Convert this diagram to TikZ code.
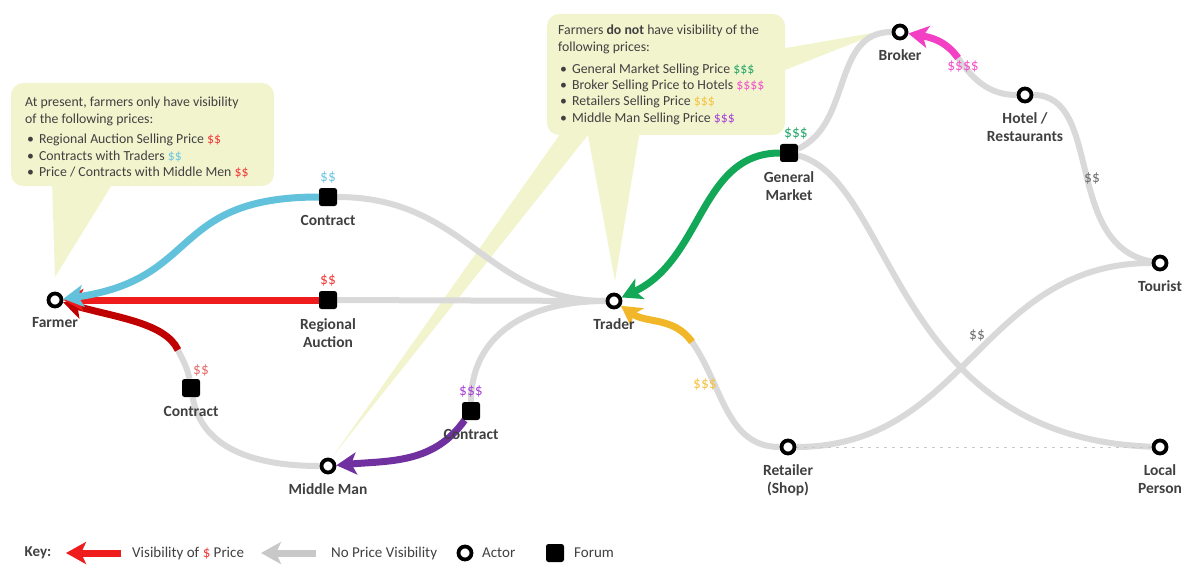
\documentclass[tikz,border=0pt]{standalone}
\usepackage{fontspec}
\setmainfont{Carlito}
\usepackage{xcolor}
\usetikzlibrary{arrows.meta,positioning,backgrounds}
\definecolor{linkGray}{HTML}{D9D9D9}
\definecolor{keyGray}{HTML}{C8C8C8}
\definecolor{txtGray}{HTML}{404040}
\definecolor{noteFill}{HTML}{F2F4CE}
\definecolor{visRed}{HTML}{EE1C1C}
\definecolor{visDarkRed}{HTML}{C00000}
\definecolor{visBlue}{HTML}{62C2DC}
\definecolor{visGreen}{HTML}{12A857}
\definecolor{visPurple}{HTML}{7030A0}
\definecolor{visGold}{HTML}{F2B629}
\definecolor{visPink}{HTML}{F23FC3}
\definecolor{dolBlue}{HTML}{6EC6E2}
\definecolor{dolRed}{HTML}{F03C3C}
\definecolor{dolSoftRed}{HTML}{E46C6C}
\definecolor{dolPurple}{HTML}{A843D8}
\definecolor{dolGreen}{HTML}{26A86A}
\definecolor{dolPink}{HTML}{F154C8}
\definecolor{dolGold}{HTML}{F6C343}
\definecolor{dolGray}{HTML}{6E6E6E}

\begin{document}
\begin{tikzpicture}[x=1pt,y=-1pt,>=Stealth,
  font=\fontsize{14}{17}\selectfont,label distance=9pt,
  actor/.style={circle,draw=black,line width=3.8pt,fill=white,minimum size=13pt,inner sep=0pt},
  forum/.style={rectangle,rounded corners=2.5pt,fill=black,minimum size=18pt,inner sep=0pt},
  lbl/.style={font=\fontsize{15.5}{18}\selectfont\bfseries,text=txtGray,align=center,inner sep=0pt},
  dol/.style={font=\fontsize{15.5}{18}\selectfont,inner sep=0pt},
  link/.style={draw=linkGray,line width=6pt},
  vis/.style={line width=7pt,-{Stealth[length=20pt,width=22pt,inset=5pt]}},
  note/.style={fill=noteFill},
  notetext/.style={font=\fontsize{13.8}{16.3}\selectfont,text=txtGray,align=left,anchor=north west,inner sep=0pt},
  keytext/.style={font=\fontsize{15}{18}\selectfont,text=txtGray,inner sep=0pt}]
\useasboundingbox (0,0) rectangle (1189,567);

% actors and forums
\node[actor,label={[lbl]below:Farmer}] (farmer) at (55,300) {};
\node[forum,label={[lbl]below:Contract}] (ctrT) at (328,197) {};
\node[forum,label={[lbl]below:Regional\\Auction}] (regA) at (328,300) {};
\node[forum,label={[lbl]below:Contract}] (ctrL) at (191,388) {};
\node[actor,label={[lbl]below:Middle Man}] (midman) at (328,466) {};
\node[forum,label={[lbl]below:Contract}] (ctrM) at (471,411) {};
\node[actor,label={[lbl]below:Trader}] (trader) at (614,301) {};
\node[forum,label={[lbl]below:General\\Market}] (genM) at (789,153) {};
\node[actor,label={[lbl]below:Broker}] (broker) at (900,32) {};
\node[actor,label={[lbl]below:Hotel /\\Restaurants}] (hotel) at (1025,95) {};
\node[actor,label={[lbl]below:Tourist}] (tourist) at (1160,263) {};
\node[actor,label={[lbl]below:Retailer\\(Shop)}] (retail) at (788,447) {};
\node[actor,label={[lbl]below:Local\\Person}] (local) at (1160,447) {};

% points where a link changes colour
\coordinate (ctrLup) at (178,350);
\coordinate (retUp) at (692,342);
\coordinate (hotUp) at (958,58);

% prices
\node[dol,text=dolBlue,above=4pt of ctrT] (dolCtrT) {\$\$};
\node[dol,text=dolRed,above=4pt of regA] (dolRegA) {\$\$};
\node[dol,text=dolSoftRed] (dolCtrL) at (201,370) {\$\$};
\node[dol,text=dolPurple,above=4pt of ctrM] (dolCtrM) {\$\$\$};
\node[dol,text=dolGreen] (dolGenM) at (796,133) {\$\$\$};
\node[dol,text=dolGold] (dolRet) at (705,384) {\$\$\$};
\node[dol,text=dolPink] (dolHot) at (963,66) {\$\$\$\$};
\node[dol,text=dolGray] (dolHotTour) at (1092,178) {\$\$};
\node[dol,text=dolGray] (dolRetTour) at (977,335) {\$\$};

% callout texts
\node[notetext] (noteNow) at (25,97) {At present, farmers only have visibility\\
  of the following prices:\\[4.5pt]
  \hspace{2pt}\textbullet\hspace{5pt}Regional Auction Selling Price \textcolor{dolRed}{\$\$}\\
  \hspace{2pt}\textbullet\hspace{5pt}Contracts with Traders \textcolor{dolBlue}{\$\$}\\
  \hspace{2pt}\textbullet\hspace{5pt}Price / Contracts with Middle Men \textcolor{dolRed}{\$\$}};
\node[notetext] (noteNot) at (558,25) {Farmers \textbf{do not} have visibility of the\\
  following prices:\\[5.7pt]
  \hspace{2pt}\textbullet\hspace{5pt}General Market Selling Price \textcolor{dolGreen}{\$\$\$}\\
  \hspace{2pt}\textbullet\hspace{5pt}Broker Selling Price to Hotels \textcolor{dolPink}{\$\$\$\$}\\
  \hspace{2pt}\textbullet\hspace{5pt}Retailers Selling Price \textcolor{dolGold}{\$\$\$}\\
  \hspace{2pt}\textbullet\hspace{5pt}Middle Man Selling Price \textcolor{dolPurple}{\$\$\$}};

\begin{scope}[on background layer]
% callout shapes
\fill[note,rounded corners=12pt] (11,83) rectangle (274,186);
\fill[note] (52,180) -- (115,180) -- (55,277) -- cycle;
\fill[note,rounded corners=12pt] (547,14) rectangle (785,135);
\fill[note] (587,130) -- (640,130) -- (615,281) -- cycle;
\fill[note] (563,130) -- (592,130) -- (333,456) -- cycle;
\fill[note] (780,49) -- (780,72) -- (884,31) -- cycle;

% links without price visibility
\draw[link] (ctrT) to[out=0,in=180,out distance=130,in distance=120] (trader);
\draw[link] (regA) -- (trader);
\draw[link] (ctrL) to[out=100,in=-65] (ctrLup);
\draw[link] (ctrL) to[out=-80,in=180] (midman);
\draw[link] (ctrM) to[out=90,in=180,in distance=80] (trader);
\draw[link] (retail) to[out=180,in=-55] (retUp);
\draw[link] (genM) to[out=25,in=180,out distance=60,in distance=60] (broker);
\draw[link] (genM) to[out=-15,in=178,out distance=100,in distance=260] (local);
\draw[link] (hotel) to[out=180,in=-55] (hotUp);
\draw[link] (hotel) to[out=0,in=170,out distance=70,in distance=90] (tourist);
\draw[link] (retail) to[out=0,in=180,out distance=170,in distance=170] (tourist);
\draw[keyGray,line width=0.8pt,dash pattern=on 3pt off 5pt] (retail) -- (local);

% links with price visibility
\draw[vis,visDarkRed] (ctrLup) to[out=115,in=-16,out distance=30,in distance=55] (farmer);
\draw[vis,visRed] (regA) -- (farmer);
\draw[vis,visBlue] (ctrT) to[out=180,in=8,out distance=150,in distance=140] (farmer);
\draw[vis,visPurple] (ctrM) to[out=-125,in=5] (midman);
\draw[vis,visGreen] (genM) to[out=180,in=25,out distance=80,in distance=90] (trader);
\draw[vis,visGold] (retUp) to[out=125,in=-35] (trader);
\draw[vis,visPink] (hotUp) to[out=125,in=-10] (broker);
\end{scope}

% key
\node[keytext,font=\fontsize{15}{18}\selectfont\bfseries] (keyLbl) at (38,553) {Key:};
\coordinate (keyRedA) at (121,553);
\coordinate (keyRedB) at (66,553);
\draw[vis,visRed] (keyRedA) -- (keyRedB);
\node[keytext,anchor=west] (keyVis) at (132,553) {Visibility of \textcolor{dolRed}{\$} Price};
\coordinate (keyGrayA) at (316,553);
\coordinate (keyGrayB) at (261,553);
\draw[vis,keyGray] (keyGrayA) -- (keyGrayB);
\node[keytext,anchor=west] (keyNo) at (331,553) {No Price Visibility};
\node[actor] (keyActor) at (465,553) {};
\node[keytext,anchor=west] (keyActorTxt) at (482,553) {Actor};
\node[forum] (keyForum) at (555,553) {};
\node[keytext,anchor=west] (keyForumTxt) at (574,553) {Forum};
\end{tikzpicture}
\end{document}
